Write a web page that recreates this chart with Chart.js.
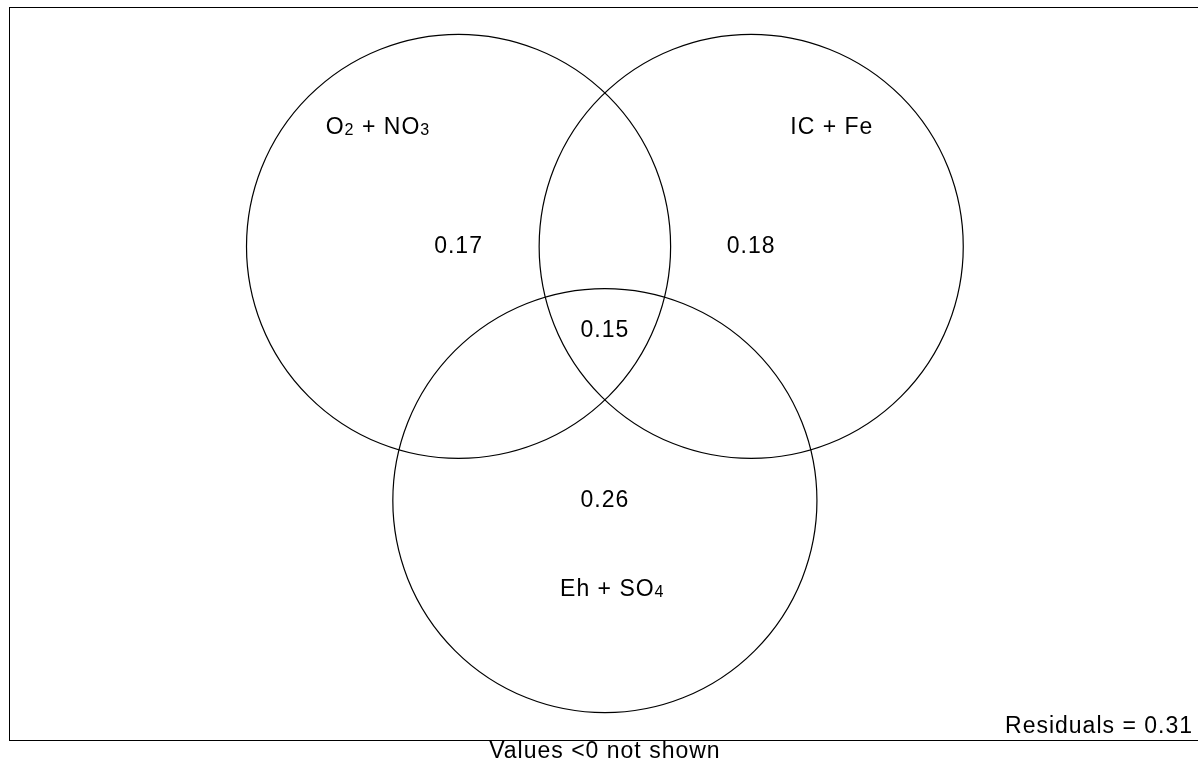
<!DOCTYPE html>
<html>
<head>
<meta charset="utf-8">
<script src="https://cdn.jsdelivr.net/npm/chart.js@4.4.1/dist/chart.umd.min.js"></script>
<style>
  html, body { margin: 0; padding: 0; background: #fff; overflow: hidden; }
  #wrap { width: 1210px; height: 765px; position: relative; }
</style>
</head>
<body>
<div id="wrap"><canvas id="venn"></canvas></div>
<script>
//DATA
const circleX = [-0.69, 0.69, 0];
const circleY = [0.6, 0.6, -0.6];
const circleR = 1;
// set names, each as [text, isSubscript] parts
const setNames = [
  [["O", false], ["2", true], [" + NO", false], ["3", true]],
  [["IC + Fe", false]],
  [["Eh + SO", false], ["4", true]],
];
const nameX = [-1.07, 1.07, 0.035];
const nameY = [1.16, 1.16, -1.02];
const fractions = ["0.17", "0.18", "0.15", "0.26"];
const fractionX = [-0.69, 0.69, 0, 0];
const fractionY = [0.6, 0.6, 0.2, -0.6];
const residuals = "0.31";
const footNote = "Values <0 not shown";

const FONT = "'Liberation Sans', Arial, Helvetica, sans-serif";
const SIZE = 23;

//draw the frame and all the texts
const vennText = {
  id: "vennText",
  afterDatasetsDraw(chart) {
    const ctx = chart.ctx;
    const xs = chart.scales.x;
    const ys = chart.scales.y;
    const area = chart.chartArea;
    ctx.save();
    // frame
    ctx.strokeStyle = "#000";
    ctx.lineWidth = 1;
    ctx.strokeRect(Math.round(area.left) + 0.5, Math.round(area.top) + 0.5,
      Math.round(area.right - area.left), Math.round(area.bottom - area.top));

    ctx.fillStyle = "#000";
    ctx.textBaseline = "middle";
    ctx.letterSpacing = "1px";

    // set names with subscripts
    setNames.forEach((parts, i) => {
      let w = 0;
      parts.forEach(([t, sub]) => {
        ctx.font = `${sub ? SIZE * 0.7 : SIZE}px ${FONT}`;
        w += ctx.measureText(t).width;
      });
      let x = xs.getPixelForValue(nameX[i]) - w / 2;
      const y = ys.getPixelForValue(nameY[i]);
      ctx.textAlign = "left";
      parts.forEach(([t, sub]) => {
        ctx.font = `${sub ? SIZE * 0.7 : SIZE}px ${FONT}`;
        ctx.fillText(t, x, sub ? y + 3 : y);
        x += ctx.measureText(t).width;
      });
    });

    // fraction values
    ctx.font = `${SIZE}px ${FONT}`;
    ctx.textAlign = "center";
    fractions.forEach((v, i) => {
      ctx.fillText(v, xs.getPixelForValue(fractionX[i]), ys.getPixelForValue(fractionY[i]));
    });

    // residuals, bottom right inside frame
    ctx.textAlign = "right";
    ctx.textBaseline = "alphabetic";
    ctx.fillText(`Residuals = ${residuals}`, 1193, area.bottom - 7);

    // footnote under the frame
    ctx.textAlign = "center";
    ctx.fillText(footNote, xs.getPixelForValue(0), area.bottom + 18);
    ctx.restore();
  },
};

//circle size in pixels from the scale
function radiusPx(context) {
  const xs = context.chart.scales.x;
  return Math.abs(xs.getPixelForValue(circleR) - xs.getPixelForValue(0));
}

const chart = new Chart(document.getElementById("venn"), {
  type: "scatter",
  data: {
    datasets: [
      {
        data: circleX.map((x, i) => ({ x: x, y: circleY[i] })),
        pointRadius: radiusPx,
        pointHoverRadius: radiusPx,
        backgroundColor: "rgba(0,0,0,0)",
        borderColor: "#000",
        borderWidth: 1.2,
        clip: false,
      },
    ],
  },
  options: {
    responsive: true,
    maintainAspectRatio: false,
    animation: false,
    events: [],
    layout: { padding: { left: 9, top: 7, right: 5, bottom: 25 } },
    scales: {
      x: { type: "linear", min: -2.81, max: 2.83, display: false },
      y: { type: "linear", min: -1.73, max: 1.73, display: false },
    },
    plugins: {
      legend: { display: false },
      tooltip: { enabled: false },
    },
  },
  plugins: [vennText],
});
</script>
</body>
</html>
